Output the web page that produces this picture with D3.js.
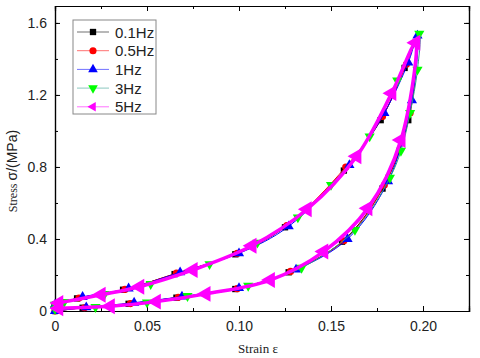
<!DOCTYPE html>
<html>
<head>
<meta charset="utf-8">
<script src="https://cdn.jsdelivr.net/npm/d3@7"></script>
<style>
  body { margin: 0; background: #fff; }
  svg { display: block; }
  .tick text { font-family: Arial, "Liberation Sans", sans-serif; font-size: 14px; fill: #222; }
</style>
</head>
<body>
<div class="chart"><svg></svg></div>
<script>
// strain / stress pairs, loop: loading branch up to the peak, then unloading back
const strain01 = [0.000, 0.015, 0.040, 0.066, 0.098, 0.127, 0.156, 0.178, 0.192, 0.196,
  0.190, 0.177, 0.157, 0.125, 0.098, 0.065, 0.037, 0.012, 0.000];
const stress01 = [0.000, 0.018, 0.040, 0.074, 0.122, 0.215, 0.385, 0.680, 1.060, 1.490,
  1.350, 1.060, 0.780, 0.465, 0.315, 0.205, 0.118, 0.070, 0.035];

const strain05 = [0.000, 0.016, 0.041, 0.067, 0.099, 0.128, 0.157, 0.179, 0.193, 0.196,
  0.191, 0.178, 0.158, 0.126, 0.099, 0.066, 0.038, 0.013, 0.000];
const stress05 = [0.000, 0.018, 0.041, 0.076, 0.124, 0.220, 0.390, 0.700, 1.100, 1.490,
  1.370, 1.080, 0.800, 0.475, 0.320, 0.210, 0.120, 0.072, 0.035];

const strain1 = [0.000, 0.017, 0.043, 0.069, 0.100, 0.131, 0.159, 0.181, 0.194, 0.197,
  0.192, 0.179, 0.160, 0.127, 0.100, 0.068, 0.040, 0.015, 0.000];
const stress1 = [0.000, 0.020, 0.046, 0.080, 0.127, 0.230, 0.400, 0.720, 1.170, 1.530,
  1.380, 1.100, 0.810, 0.470, 0.320, 0.215, 0.125, 0.078, 0.035];

const strain3 = [0.000, 0.022, 0.050, 0.072, 0.105, 0.134, 0.163, 0.182, 0.188, 0.193, 0.197, 0.198,
  0.186, 0.171, 0.150, 0.132, 0.110, 0.084, 0.052, 0.027, 0.005, 0.000];
const stress3 = [0.010, 0.022, 0.048, 0.083, 0.140, 0.240, 0.450, 0.740, 0.890, 1.100, 1.340, 1.540,
  1.280, 0.970, 0.700, 0.520, 0.380, 0.260, 0.150, 0.095, 0.050, 0.035];

const strain5 = [0.002, 0.030, 0.055, 0.082, 0.117, 0.146, 0.170, 0.188, 0.196,
  0.183, 0.164, 0.137, 0.107, 0.075, 0.046, 0.025, 0.002];
const stress5 = [0.015, 0.026, 0.052, 0.095, 0.172, 0.330, 0.570, 0.950, 1.490,
  1.210, 0.860, 0.565, 0.362, 0.228, 0.135, 0.090, 0.045];

const seriesNames = ['0.1Hz', '0.5Hz', '1Hz', '3Hz', '5Hz'];
const xTicks = [0, 0.05, 0.10, 0.15, 0.20];
const yTicks = [0, 0.4, 0.8, 1.2, 1.6];

const series = [
  { name: seriesNames[0], x: strain01, y: stress01, line: '#000', fill: '#000', shape: d3.symbolSquare, rot: 0, size: 40, width: 1 },
  { name: seriesNames[1], x: strain05, y: stress05, line: '#ff0000', fill: '#ff0000', shape: d3.symbolCircle, rot: 0, size: 40, width: 1 },
  { name: seriesNames[2], x: strain1, y: stress1, line: '#0000ff', fill: '#0000ff', shape: d3.symbolTriangle, rot: 0, size: 45, width: 1 },
  { name: seriesNames[3], x: strain3, y: stress3, line: '#2f9a8a', fill: '#00ff00', shape: d3.symbolTriangle, rot: 180, size: 45, width: 1 },
  { name: seriesNames[4], x: strain5, y: stress5, line: '#ff00ff', fill: '#ff00ff', shape: d3.symbolTriangle, rot: -90, size: 110, width: 3.5 }
];

const W = 480, H = 358;
const margin = { top: 6, right: 11, bottom: 47, left: 55 };
const width = W - margin.left - margin.right;
const height = H - margin.top - margin.bottom;

const svg = d3.select('svg').attr('width', W).attr('height', H);
const g = svg.append('g').attr('transform', `translate(${margin.left},${margin.top})`);

const x = d3.scaleLinear().domain([0, 0.225]).range([0, width]);
const y = d3.scaleLinear().domain([0, 1.694]).range([height, 0]);

const minorX = d3.range(0, 0.2251, 0.025);
const minorY = d3.range(0, 1.61, 0.2);

// inward ticks on all four sides
function frameAxis(axis, majors, minors) {
  return axis.tickValues(minors).tickSize(-3).tickFormat('');
}

g.append('g').attr('transform', `translate(0,${height})`)
  .call(d3.axisBottom(x).tickValues(minorX).tickSize(-3).tickFormat(''));
g.append('g').attr('class', 'axis-x').attr('transform', `translate(0,${height})`)
  .call(d3.axisBottom(x).tickValues(xTicks).tickSize(-5).tickPadding(10)
    .tickFormat(d => d === 0 ? '0' : d3.format('.2f')(d)));
g.append('g').call(d3.axisTop(x).tickValues(minorX).tickSize(-3).tickFormat(''));
g.append('g').call(d3.axisTop(x).tickValues(xTicks).tickSize(-5).tickFormat(''));

g.append('g').call(d3.axisLeft(y).tickValues(minorY).tickSize(-3).tickFormat(''));
g.append('g').attr('class', 'axis-y')
  .call(d3.axisLeft(y).tickValues(yTicks).tickSize(-5).tickPadding(8)
    .tickFormat(d => d === 0 ? '0' : d3.format('.1f')(d)));
g.append('g').attr('transform', `translate(${width},0)`)
  .call(d3.axisRight(y).tickValues(minorY).tickSize(-3).tickFormat(''));
g.append('g').attr('transform', `translate(${width},0)`)
  .call(d3.axisRight(y).tickValues(yTicks).tickSize(-5).tickFormat(''));

g.selectAll('.domain').attr('stroke', '#000').attr('stroke-width', 1.2);
g.selectAll('.tick line').attr('stroke', '#000');

const line = d3.line()
  .x(d => x(d[0]))
  .y(d => y(d[1]))
  .curve(d3.curveCatmullRom.alpha(0.5));

const plot = g.append('g');

series.forEach(s => {
  const pts = s.x.map((v, i) => [v, s.y[i]]);
  const sg = plot.append('g');
  sg.append('path')
    .datum(pts)
    .attr('fill', 'none')
    .attr('stroke', s.line)
    .attr('stroke-width', s.width)
    .attr('stroke-linejoin', 'round')
    .attr('d', line);
  sg.selectAll('path.mk')
    .data(pts)
    .join('path')
    .attr('class', 'mk')
    .attr('d', d3.symbol().type(s.shape).size(s.size))
    .attr('transform', d => `translate(${x(d[0])},${y(d[1])}) rotate(${s.rot})`)
    .attr('fill', s.fill);
});

// legend
const lg = svg.append('g').attr('transform', 'translate(73,20)');
lg.append('rect')
  .attr('width', 83).attr('height', 94)
  .attr('fill', '#fff').attr('stroke', '#888').attr('stroke-width', 1);

series.forEach((s, i) => {
  const row = lg.append('g').attr('transform', `translate(0,${12 + i * 18.7})`);
  row.append('line')
    .attr('x1', 4).attr('x2', 36)
    .attr('stroke', s.line).attr('stroke-width', 0.8).attr('stroke-opacity', 0.7);
  row.append('path')
    .attr('d', d3.symbol().type(s.shape).size(40))
    .attr('transform', `translate(20,0) rotate(${s.rot})`)
    .attr('fill', s.fill);
  row.append('text')
    .attr('x', 42).attr('y', 5.5)
    .attr('font-family', 'Arial, "Liberation Sans", sans-serif')
    .attr('font-size', 15)
    .attr('fill', '#222')
    .text(s.name);
});

// axis titles
svg.append('text')
  .attr('x', 258).attr('y', 353)
  .attr('text-anchor', 'middle')
  .attr('font-family', '"Liberation Serif", "Times New Roman", serif')
  .attr('font-size', 13)
  .attr('fill', '#222')
  .text('Strain  ε');

const yt = svg.append('text')
  .attr('transform', 'translate(17,171) rotate(-90)')
  .attr('text-anchor', 'middle')
  .attr('fill', '#222');
yt.append('tspan')
  .attr('font-family', '"Liberation Serif", "Times New Roman", serif')
  .attr('font-size', 12)
  .text('Stress ');
yt.append('tspan')
  .attr('font-family', 'Arial, "Liberation Sans", sans-serif')
  .attr('font-size', 14)
  .text('σ/(MPa)');
</script>
</body>
</html>
